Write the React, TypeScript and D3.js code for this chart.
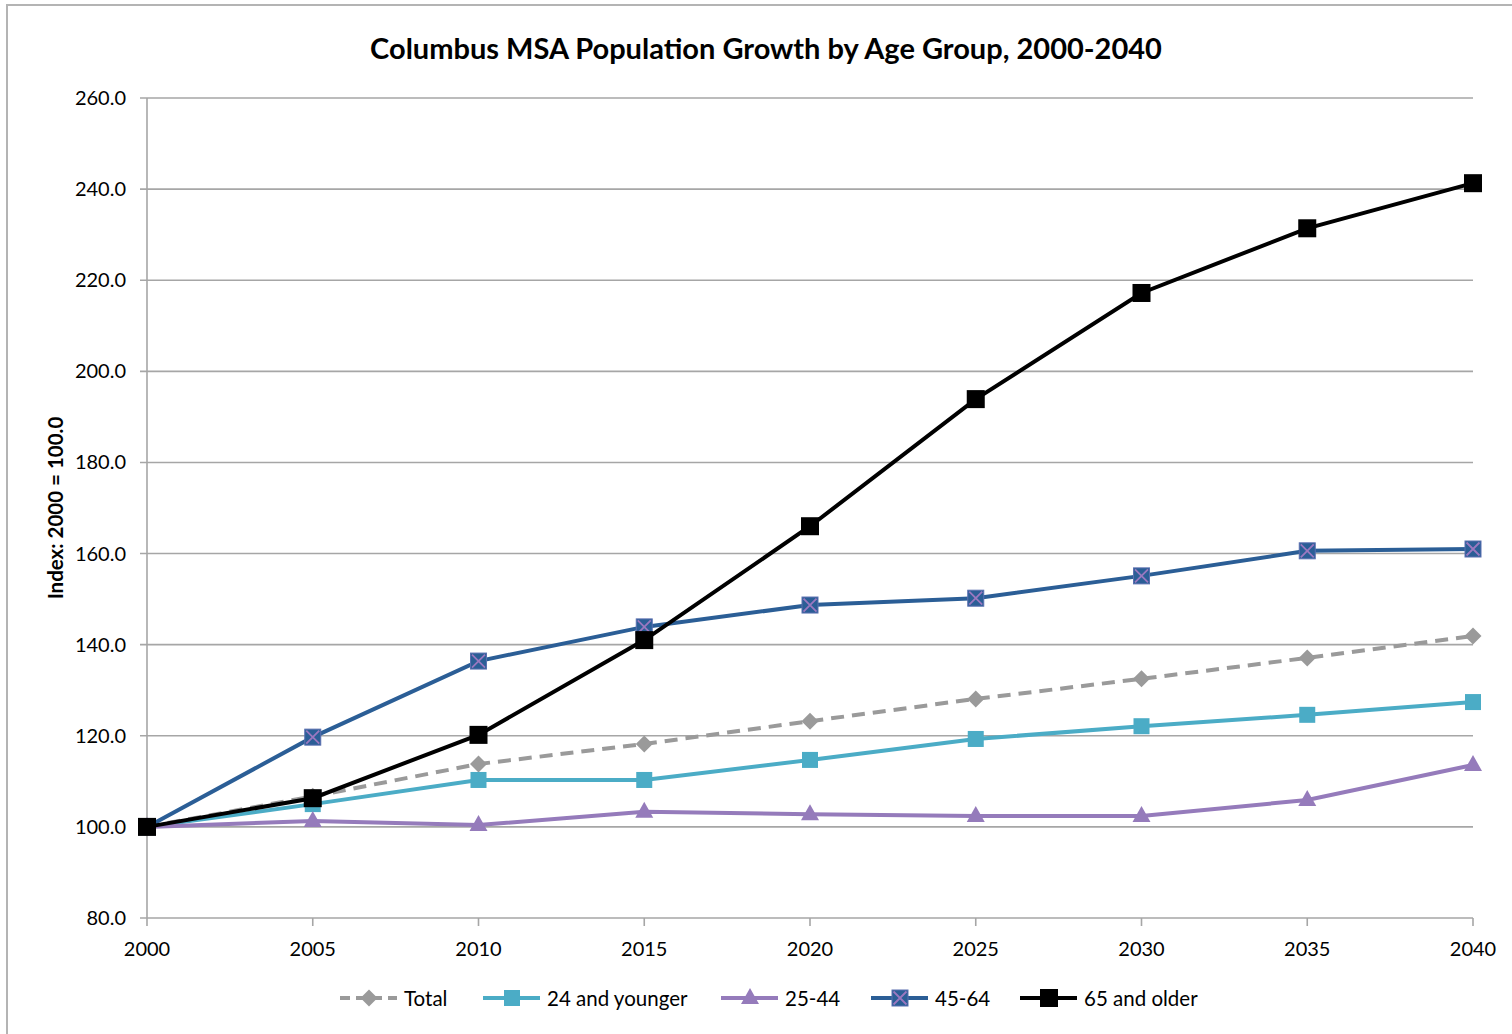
import React from "react";
import * as d3 from "d3";

const years = [2000, 2005, 2010, 2015, 2020, 2025, 2030, 2035, 2040];
const total = [100, 106.7, 113.8, 118.2, 123.2, 128.1, 132.5, 137.1, 141.9];
const young = [100, 105.0, 110.3, 110.3, 114.7, 119.3, 122.1, 124.6, 127.4];
const mid = [100, 101.3, 100.4, 103.3, 102.8, 102.4, 102.4, 105.9, 113.6];
const older = [100, 119.7, 136.4, 143.9, 148.7, 150.2, 155.1, 160.6, 161.0];
const senior = [100, 106.3, 120.2, 141.0, 166.0, 193.9, 217.2, 231.4, 241.3];
const yTicks = [80, 100, 120, 140, 160, 180, 200, 220, 240, 260];

type Series = { name: string; values: number[]; color: string; marker: string; dash?: string; width: number };
const series: Series[] = [
  { name: "Total", values: total, color: "#9a9a9a", marker: "diamond", dash: "13,8", width: 4 },
  { name: "24 and younger", values: young, color: "#4bacc6", marker: "square", width: 4 },
  { name: "25-44", values: mid, color: "#957bbb", marker: "triangle", width: 4 },
  { name: "45-64", values: older, color: "#2b5e96", marker: "xsquare", width: 4 },
  { name: "65 and older", values: senior, color: "#000000", marker: "bsquare", width: 4 },
];
const legendX = [340, 483, 721, 871, 1020];

const FONT = "Lato, 'Open Sans', sans-serif";

function Marker({ kind, x, y, color }: { kind: string; x: number; y: number; color: string }) {
  if (kind === "diamond") {
    const s = 8.5;
    return <path d={`M${x},${y - s}L${x + s},${y}L${x},${y + s}L${x - s},${y}Z`} fill={color} />;
  }
  if (kind === "square") {
    return <rect x={x - 8} y={y - 8} width={16} height={16} fill={color} />;
  }
  if (kind === "triangle") {
    return <path d={`M${x},${y - 10}L${x + 9},${y + 6}L${x - 9},${y + 6}Z`} fill={color} />;
  }
  if (kind === "xsquare") {
    return (
      <g>
        <rect x={x - 8} y={y - 8} width={16} height={16} fill={color} stroke="#5b6fb0" strokeWidth={1} />
        <path d={`M${x - 6.5},${y - 6.5}L${x + 6.5},${y + 6.5}M${x + 6.5},${y - 6.5}L${x - 6.5},${y + 6.5}`} stroke="#9a78c0" strokeWidth={1.8} />
      </g>
    );
  }
  return <rect x={x - 9} y={y - 9} width={18} height={18} fill={color} />;
}

export default function App() {
  const x = d3.scaleLinear().domain([2000, 2040]).range([147, 1473]);
  const y = d3.scaleLinear().domain([80, 260]).range([918, 98]);
  const line = d3
    .line<number>()
    .x((_, i) => x(years[i]))
    .y((d) => y(d));

  return (
    <svg
      width={1512}
      height={1034}
      style={{ position: "absolute", left: 0, top: 0, background: "#fff" }}
      fontFamily={FONT}
    >
      <rect x={0} y={0} width={1512} height={1034} fill="#fff" />
      <rect x={7} y={5} width={1530} height={1050} fill="none" stroke="#b4b4b4" strokeWidth={2} />
      <text x={766} y={59} textAnchor="middle" fontSize={29} fontWeight="bold" fill="#000">
        Columbus MSA Population Growth by Age Group, 2000-2040
      </text>
      {yTicks.map((t) => (
        <g key={t}>
          <line x1={140} x2={1473} y1={y(t)} y2={y(t)} stroke="#a6a6a6" strokeWidth={1.6} />
          <text x={126} y={y(t) + 7} textAnchor="end" fontSize={20} fill="#000">
            {t.toFixed(1)}
          </text>
        </g>
      ))}
      <line x1={147} x2={147} y1={98} y2={918} stroke="#a6a6a6" strokeWidth={1.6} />
      {years.map((yr) => (
        <g key={yr}>
          <line x1={x(yr)} x2={x(yr)} y1={918} y2={926} stroke="#a6a6a6" strokeWidth={1.6} />
          <text x={x(yr)} y={956} textAnchor="middle" fontSize={20} fill="#000">
            {yr}
          </text>
        </g>
      ))}
      <text
        transform={`translate(63,508) rotate(-90)`}
        textAnchor="middle"
        fontSize={20.5}
        fontWeight="bold"
        fill="#000"
      >
        Index: 2000 = 100.0
      </text>
      {series.map((s) => (
        <g key={s.name}>
          <path
            d={line(s.values) || ""}
            fill="none"
            stroke={s.color}
            strokeWidth={s.width}
            strokeDasharray={s.dash}
          />
          {s.values.map((v, i) => (
            <Marker key={i} kind={s.marker} x={x(years[i])} y={y(v)} color={s.color} />
          ))}
        </g>
      ))}
      {series.map((s, i) => {
        const lx = legendX[i];
        return (
          <g key={s.name}>
            <line x1={lx} x2={lx + 57} y1={998} y2={998} stroke={s.color} strokeWidth={s.width} strokeDasharray={s.dash ? "10,6" : undefined} />
            <Marker kind={s.marker} x={lx + 29} y={998} color={s.color} />
            <text x={lx + 64} y={1006} fontSize={20.5} fill="#000">
              {s.name}
            </text>
          </g>
        );
      })}
    </svg>
  );
}
